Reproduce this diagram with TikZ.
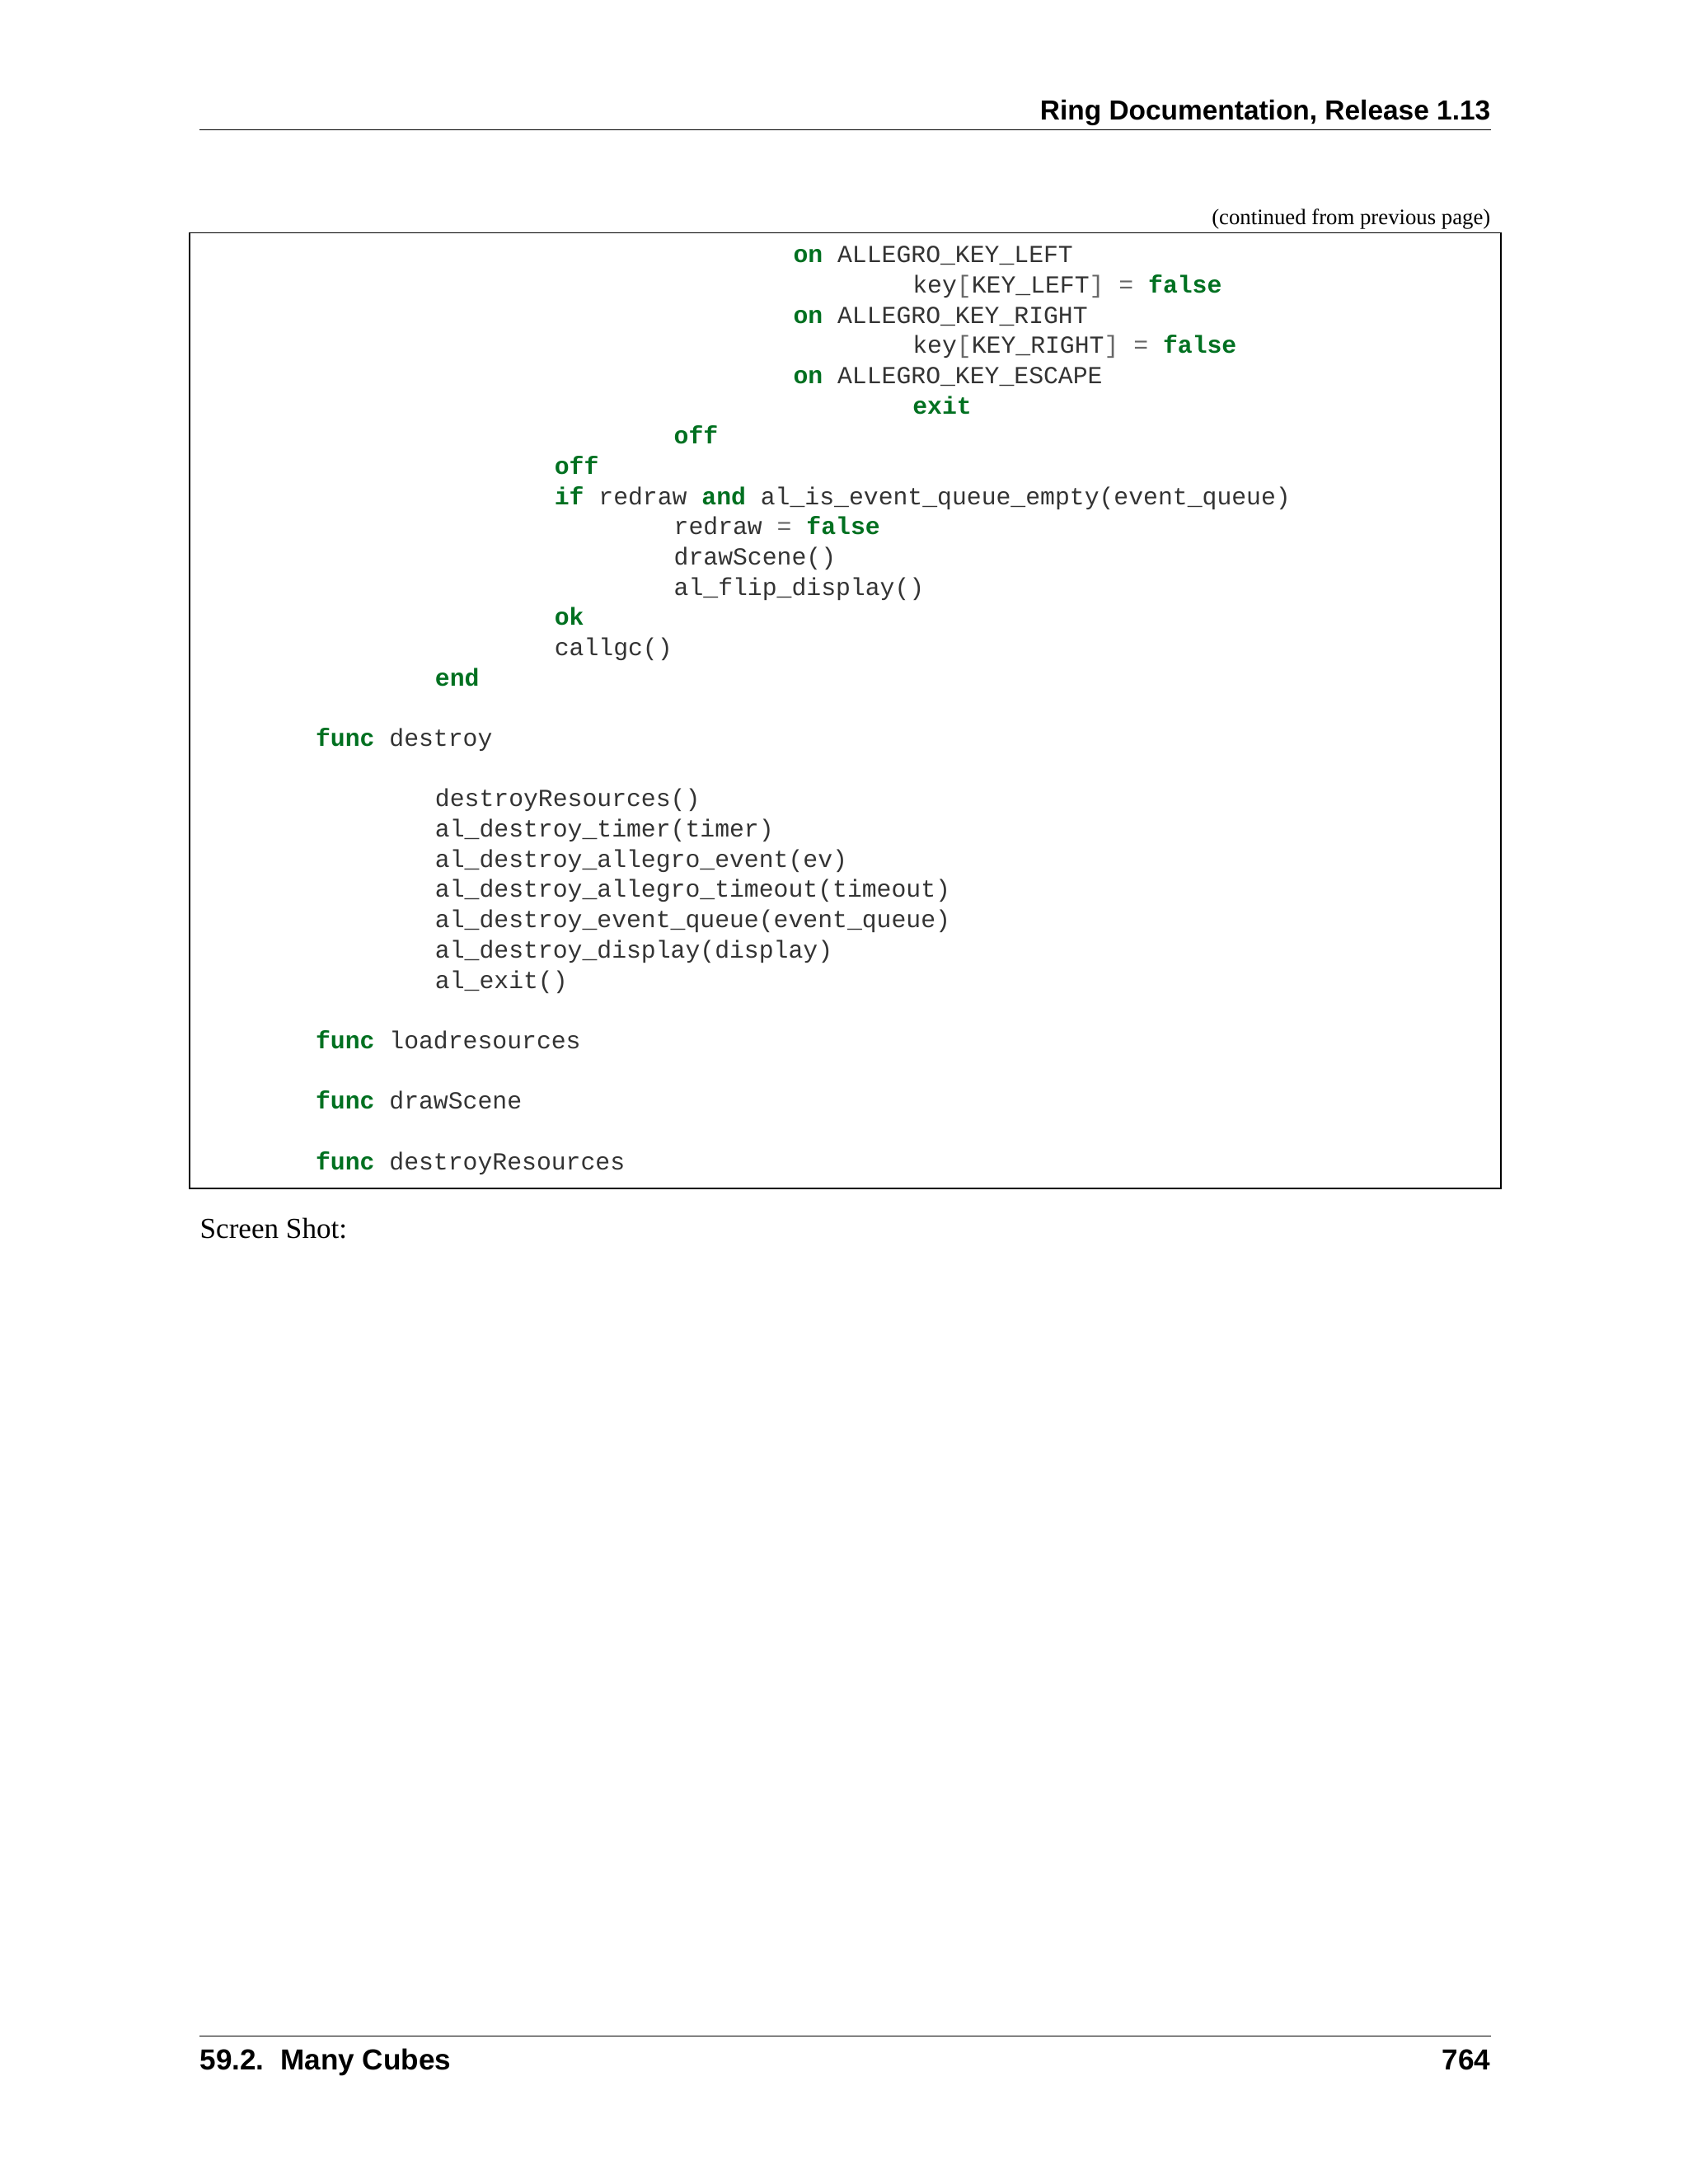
\documentclass[tikz,border=0pt]{standalone}
\usepackage{fontspec}
\setmainfont{Liberation Serif}
\setsansfont{Liberation Sans}
\setmonofont{Liberation Mono}
\definecolor{kwgreen}{HTML}{007020}
\definecolor{opgray}{HTML}{666666}
\definecolor{codetxt}{HTML}{333333}
\newcommand\kw[1]{\textcolor{kwgreen}{\bfseries #1}}
\newcommand\op[1]{\textcolor{opgray}{#1}}
\begin{document}
\begin{tikzpicture}[x=0.506pt,y=-0.506pt,
  code/.style={anchor=base west,inner sep=0,font=\ttfamily\fontsize{8.9}{10}\selectfont,text=codetxt}]
\useasboundingbox (0,0) rectangle (1210,1566);
\node[anchor=base east,inner sep=0,font=\sffamily\bfseries\fontsize{10}{12}\selectfont] (hdr) at (1069,86) {Ring Documentation, Release 1.13};
\draw[line width=0.4pt] (143,93) -- (1069,93);
\node[anchor=base east,inner sep=0,font=\fontsize{8}{9}\selectfont] (cont) at (1069,161) {(continued from previous page)};
\draw[line width=0.5pt] (136,167) rectangle (1076,852);
\def\cx#1{226+10.7*#1}
\node[code] (l1) at ({\cx{32}},188) {\kw{on} ALLEGRO\_KEY\_LEFT};
\node[code] (l2) at ({\cx{40}},210) {key\op{[}KEY\_LEFT\op{]} \op{=} \kw{false}};
\node[code] (l3) at ({\cx{32}},232) {\kw{on} ALLEGRO\_KEY\_RIGHT};
\node[code] (l4) at ({\cx{40}},253) {key\op{[}KEY\_RIGHT\op{]} \op{=} \kw{false}};
\node[code] (l5) at ({\cx{32}},275) {\kw{on} ALLEGRO\_KEY\_ESCAPE};
\node[code] (l6) at ({\cx{40}},297) {\kw{exit}};
\node[code] (l7) at ({\cx{24}},318) {\kw{off}};
\node[code] (l8) at ({\cx{16}},340) {\kw{off}};
\node[code] (l9) at ({\cx{16}},362) {\kw{if} redraw \kw{and} al\_is\_event\_queue\_empty(event\_queue)};
\node[code] (l10) at ({\cx{24}},383) {redraw \op{=} \kw{false}};
\node[code] (l11) at ({\cx{24}},405) {drawScene()};
\node[code] (l12) at ({\cx{24}},427) {al\_flip\_display()};
\node[code] (l13) at ({\cx{16}},448) {\kw{ok}};
\node[code] (l14) at ({\cx{16}},470) {callgc()};
\node[code] (l15) at ({\cx{8}},492) {\kw{end}};
\node[code] (l16) at ({\cx{0}},535) {\kw{func} destroy};
\node[code] (l17) at ({\cx{8}},578) {destroyResources()};
\node[code] (l18) at ({\cx{8}},600) {al\_destroy\_timer(timer)};
\node[code] (l19) at ({\cx{8}},622) {al\_destroy\_allegro\_event(ev)};
\node[code] (l20) at ({\cx{8}},643) {al\_destroy\_allegro\_timeout(timeout)};
\node[code] (l21) at ({\cx{8}},665) {al\_destroy\_event\_queue(event\_queue)};
\node[code] (l22) at ({\cx{8}},687) {al\_destroy\_display(display)};
\node[code] (l23) at ({\cx{8}},709) {al\_exit()};
\node[code] (l24) at ({\cx{0}},752) {\kw{func} loadresources};
\node[code] (l25) at ({\cx{0}},795) {\kw{func} drawScene};
\node[code] (l26) at ({\cx{0}},839) {\kw{func} destroyResources};
\node[anchor=base west,inner sep=0,font=\fontsize{10.5}{12}\selectfont] (ss) at (143,888) {Screen Shot:};
\draw[line width=0.4pt] (143,1460) -- (1069,1460);
\node[anchor=base west,inner sep=0,font=\sffamily\bfseries\fontsize{10.5}{12}\selectfont] (ftl) at (143,1484) {59.2.\ \ Many Cubes};
\node[anchor=base east,inner sep=0,font=\sffamily\bfseries\fontsize{10.5}{12}\selectfont] (ftr) at (1069,1484) {764};
\end{tikzpicture}
\end{document}
